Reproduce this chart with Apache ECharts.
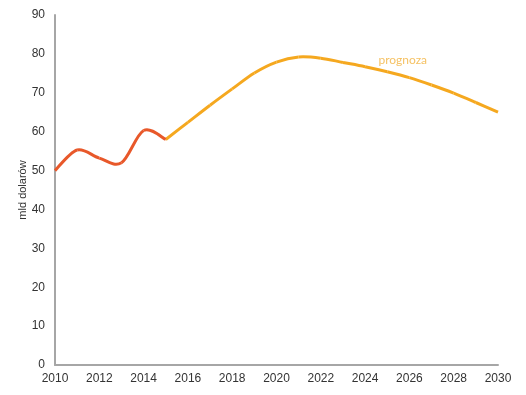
<!DOCTYPE html>
<html><head><meta charset="utf-8">
<script src="https://cdn.jsdelivr.net/npm/echarts@6/dist/echarts.min.js"></script>
<style>html,body{margin:0;padding:0;background:#fff}#c{width:526px;height:395px}</style>
</head><body><div id="c"></div>
<script>
const histYears = [2010, 2011, 2012, 2013, 2014, 2015];
const histValues = [50, 55.3, 53.2, 52.0, 60.3, 58];
const forecastYears = [2015, 2016, 2017, 2018, 2019, 2020, 2021, 2022, 2023, 2024, 2025, 2026, 2027, 2028, 2029, 2030];
const forecastValues = [58, 62.4, 66.8, 71.0, 75.1, 77.9, 79.2, 78.9, 77.8, 76.7, 75.4, 73.9, 72.0, 69.9, 67.5, 65];
const yAxisName = 'mld dolarów';
const forecastLabel = 'prognoza';

// Smooth (Catmull-Rom style, like spreadsheet smoothed lines) segment drawn via the axes' scales
function smoothSeries(years, values, color) {
  const pts = years.map((y, i) => [y, values[i]]);
  return {
    type: 'custom',
    data: pts,
    encode: {x: 0, y: 1},
    clip: false,
    renderItem: function (params, api) {
      const i = params.dataIndex;
      if (i >= pts.length - 1) return null;
      const c = k => api.coord(pts[Math.max(0, Math.min(pts.length - 1, k))]);
      const p0 = c(i - 1), p1 = c(i), p2 = c(i + 1), p3 = c(i + 2);
      const t = 1 / 6;
      return {
        type: 'bezierCurve',
        shape: {
          x1: p1[0], y1: p1[1], x2: p2[0], y2: p2[1],
          cpx1: p1[0] + (p2[0] - p0[0]) * t, cpy1: p1[1] + (p2[1] - p0[1]) * t,
          cpx2: p2[0] - (p3[0] - p1[0]) * t, cpy2: p2[1] - (p3[1] - p1[1]) * t
        },
        style: {stroke: color, lineWidth: 3, fill: null, lineCap: 'butt'}
      };
    }
  };
}

const chart = echarts.init(document.getElementById('c'), null, {renderer: 'canvas'});
const forecast = smoothSeries(forecastYears, forecastValues, '#F5A81F');
const hist = smoothSeries(histYears, histValues, '#E8582A');
const labelSeries = {
  type: 'scatter', symbolSize: 0, silent: true,
  data: [[2025.7, 78.4]],
  label: {show: true, position: 'inside', formatter: forecastLabel, color: '#F3B13B', fontFamily: 'Lato', fontSize: 12}
};
chart.setOption({
  animation: false,
  grid: {left: 55, top: 15, right: 28, bottom: 30},
  xAxis: {
    type: 'value', min: 2010, max: 2030, interval: 2,
    axisLine: {show: true, lineStyle: {color: '#a6a6a6', width: 2}},
    axisTick: {show: false}, splitLine: {show: false},
    axisLabel: {color: '#333', fontFamily: 'Liberation Sans', fontSize: 12, margin: 8,
      formatter: v => String(v)}
  },
  yAxis: {
    type: 'value', min: 0, max: 90, interval: 10,
    name: yAxisName, nameLocation: 'middle', nameGap: 27, nameMoveOverlap: false,
    nameTextStyle: {color: '#333', fontFamily: 'Liberation Sans', fontSize: 11},
    axisLine: {show: true, lineStyle: {color: '#a6a6a6', width: 2}},
    axisTick: {show: false}, splitLine: {show: false},
    axisLabel: {color: '#333', fontFamily: 'Liberation Sans', fontSize: 12, margin: 10}
  },
  series: [forecast, hist, labelSeries]
});
</script></body></html>
